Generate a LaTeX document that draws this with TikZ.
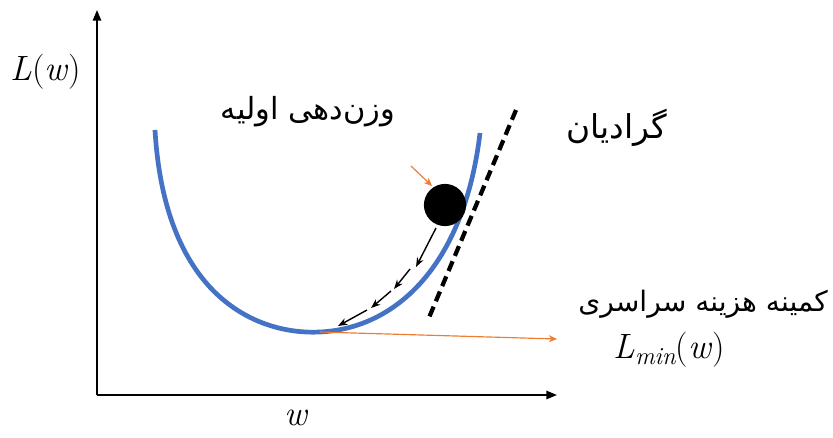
\documentclass[tikz,border=0pt]{standalone}
\usepackage{fontspec}
\usetikzlibrary{arrows.meta}
\newfontfamily\arabicfont[Script=Arabic]{DejaVu Sans}
\newfontfamily\latinfont{Latin Modern Roman}
\TeXXeTstate=1
\definecolor{curveblue}{RGB}{68,114,196}
\definecolor{arroworange}{RGB}{237,125,49}
\begin{document}
\begin{tikzpicture}[x=0.03cm,y=-0.03cm,
  axis/.style={line width=1.6pt,-{Triangle[length=9pt,width=7pt]}},
  stepar/.style={line width=1.2pt,-{Stealth[length=8pt,width=6pt]}},
  orangear/.style={arroworange,line width=1pt,-{Stealth[length=7pt,width=6pt]}},
  fatext/.style={font=\arabicfont\fontsize{26}{30}\selectfont,inner sep=0pt},
  mathtext/.style={font=\latinfont\fontsize{30}{34}\selectfont,inner sep=0pt}]
\useasboundingbox (0,0) rectangle (833,437);
\coordinate (O) at (97,395);
\coordinate (ytop) at (97,10);
\coordinate (xend) at (557,395);
\draw[axis] (O) -- (ytop);
\draw[axis] (O) -- (xend);
\node[mathtext] (ylab) at (46,72) {\textit{L}(\textit{w})};
\node[mathtext] (xlab) at (297,418) {\textit{w}};
% curve
\coordinate (cl) at (155,130);
\coordinate (cmin) at (320,332);
\coordinate (cr) at (480,133);
\draw[curveblue,line width=4pt] (cl) .. controls (165,300) and (260,335) .. (cmin)
  .. controls (400,328) and (465,260) .. (cr);
% tangent
\coordinate (t1) at (516,110);
\coordinate (t2) at (428,320);
\draw[line width=3.6pt,dash pattern=on 9pt off 5pt] (t1) -- (t2);
% ball
\node[circle,fill=black,minimum size=36pt,inner sep=0pt] (ball) at (445,205) {};
% steps
\coordinate (s0) at (436,228);
\coordinate (s1) at (416,267);
\coordinate (s2) at (410,269);
\coordinate (s3) at (394,289);
\coordinate (s4) at (391,291);
\coordinate (s5) at (371,308);
\coordinate (s6) at (367,310);
\coordinate (s7) at (338,326);
\draw[stepar] (s0) -- (s1);
\draw[stepar] (s2) -- (s3);
\draw[stepar] (s4) -- (s5);
\draw[stepar] (s6) -- (s7);
% labels
\node[fatext] (init) at (308,112) {\beginR وزن‌دهی اولیه\endR};
\node[fatext,font=\arabicfont\fontsize{28}{32}\selectfont] (grad) at (617,128) {\beginR گرادیان\endR};
\node[fatext,font=\arabicfont\fontsize{24}{28}\selectfont] (glob) at (703,304) {\beginR کمینه هزینه سراسری\endR};
\node[mathtext] (lmin) at (669,350) {\textit{L}\raisebox{-0.35ex}{\fontsize{21}{24}\selectfont\itshape min}(\textit{w})};
\coordinate (oa) at (411,166);
\coordinate (ob) at (432,186);
\draw[orangear] (oa) -- (ob);
\coordinate (hend) at (557,339);
\draw[orangear] (cmin) -- (hend);
\end{tikzpicture}
\end{document}
